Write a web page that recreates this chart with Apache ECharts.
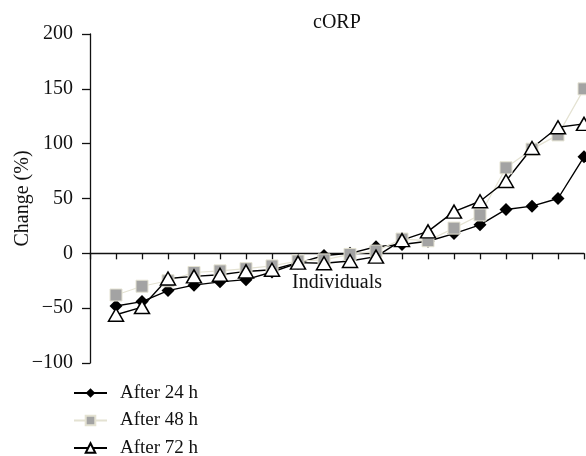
<!DOCTYPE html>
<html>
<head>
<meta charset="utf-8">
<script src="https://cdn.jsdelivr.net/npm/echarts@6/dist/echarts.min.js"></script>
<style>
html,body{margin:0;padding:0;background:#fff;}
#chart{width:586px;height:456px;}
</style>
</head>
<body>
<div id="chart"></div>
<script>
// Data
const individuals = [1,2,3,4,5,6,7,8,9,10,11,12,13,14,15,16,17,18,19];
const after24h = [-48, -44, -34, -29, -26, -24, -17, -9, -2, 0, 6, 8, 11, 18, 26, 40, 43, 50, 88];
const after48h = [-38, -30, -25, -17.5, -16, -14, -11.5, -7, -6, -1, 2, 13, 11.5, 23, 35, 78, 95, 108, 150];
const after72h = [-56, -49, -23, -21, -19.5, -16.5, -15, -8.5, -9, -7, -3, 12, 20, 38, 47.5, 66, 96, 115, 118];
const seriesNames = ['After 24 h', 'After 48 h', 'After 72 h'];
const yTicks = { min: -100, max: 200, step: 50 };
const titleText = 'cORP';
const xName = 'Individuals';
const yName = 'Change (%)';

const FONT = '"Liberation Serif", "DejaVu Serif", serif';
const pairs = arr => arr.map((v, i) => [individuals[i], v]);

const chart = echarts.init(document.getElementById('chart'), null, {renderer: 'canvas'});
chart.setOption({
  animation: false,
  backgroundColor: '#ffffff',
  title: {
    text: titleText,
    left: 308,
    top: 8,
    textStyle: {fontFamily: FONT, fontSize: 20, fontWeight: 'normal', color: '#111'}
  },
  legend: {
    orient: 'vertical',
    left: 73,
    top: 383.5,
    height: 120,
    padding: 0,
    itemWidth: 33,
    itemHeight: 12,
    itemGap: 8.5,
    data: seriesNames,
    textStyle: {fontFamily: FONT, fontSize: 19, color: '#111', padding: [0, 0, 0, 8]}
  },
  grid: {left: 90, right: 2, top: 34, bottom: 93, containLabel: false, outerBoundsMode: 'none'},
  xAxis: {
    type: 'value',
    min: 0,
    max: 19,
    interval: 1,
    axisLine: {show: true, onZero: true, lineStyle: {color: '#111', width: 1.3}},
    axisTick: {show: true, length: 6, lineStyle: {color: '#111', width: 1.3}},
    axisLabel: {show: false},
    splitLine: {show: false}
  },
  yAxis: {
    type: 'value',
    min: yTicks.min,
    max: yTicks.max,
    interval: yTicks.step,
    name: yName,
    nameLocation: 'middle',
    nameGap: 57,
    nameMoveOverlap: false,
    nameTextStyle: {fontFamily: FONT, fontSize: 20, color: '#111'},
    axisLine: {show: true, lineStyle: {color: '#111', width: 1.3}},
    axisTick: {show: true, length: 8, lineStyle: {color: '#111', width: 1.3}},
    axisLabel: {
      margin: 17,
      fontFamily: FONT, fontSize: 20, color: '#111',
      formatter: v => String(v).replace('-', '\u2212')
    },
    splitLine: {show: false}
  },
  series: [
    {
      name: seriesNames[0],
      type: 'line',
      data: pairs(after24h),
      symbol: 'diamond',
      symbolSize: 13,
      lineStyle: {color: '#000', width: 1.4},
      itemStyle: {color: '#000', borderColor: '#000', borderWidth: 0}
    },
    {
      name: seriesNames[1],
      type: 'line',
      data: pairs(after48h),
      symbol: 'rect',
      symbolSize: 12,
      lineStyle: {color: '#e4e2d2', width: 1.2},
      itemStyle: {color: '#a3a3a3', borderColor: '#e4e2d2', borderWidth: 1}
    },
    {
      name: seriesNames[2],
      type: 'line',
      data: pairs(after72h),
      symbol: 'triangle',
      symbolSize: [15, 13],
      lineStyle: {color: '#000', width: 1.4},
      itemStyle: {color: '#fff', borderColor: '#000', borderWidth: 1.5}
    }
  ]
});

// X-axis name placed just below the zero line, centred on the plot
const mid = chart.convertToPixel({gridIndex: 0}, [9.5, 0]);
chart.setOption({
  graphic: [{
    type: 'text',
    x: mid[0],
    y: mid[1] + 19,
    z: 1,
    style: {text: xName, fontFamily: FONT, fontSize: 20, fill: '#111', align: 'center', verticalAlign: 'top'}
  }]
});
</script>
</body>
</html>
